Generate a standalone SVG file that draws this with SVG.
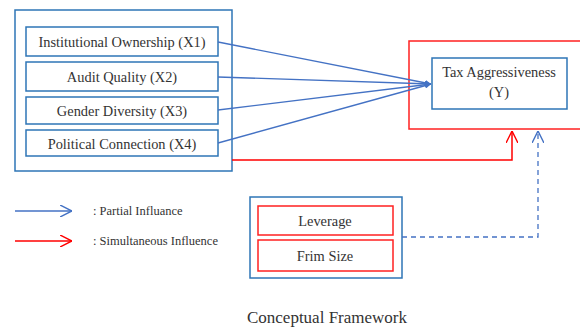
<svg xmlns="http://www.w3.org/2000/svg" width="580" height="329" viewBox="0 0 580 329">
<style>
.bbox{fill:#fff;stroke:#2e75b6;stroke-width:1.5}
.rbox{fill:#fff;stroke:#ff2020;stroke-width:1.5}
.t{font-family:"Liberation Serif","Times New Roman",serif;font-size:14.4px;fill:#333;text-anchor:middle}
.lg{font-family:"Liberation Serif","Times New Roman",serif;font-size:12.5px;fill:#333}
.blue{stroke:#4472c4;stroke-width:1.3;fill:none}
.red{stroke:#ff0000;stroke-width:1.5;fill:none}
</style>
<defs>
<marker id="fh" viewBox="0 0 10 10" refX="10" refY="5" markerWidth="6" markerHeight="6" orient="auto" markerUnits="userSpaceOnUse">
<path d="M0,0 L10,5 L0,10 Z" fill="#4472c4"/>
</marker>
<marker id="ob" viewBox="0 0 10 10" refX="10" refY="5" markerWidth="12" markerHeight="12" orient="auto" markerUnits="userSpaceOnUse">
<path d="M0,0 L10,5 L0,10" fill="none" stroke="#4472c4" stroke-width="1.2"/>
</marker>
<marker id="or" viewBox="0 0 10 10" refX="10" refY="5" markerWidth="12" markerHeight="12" orient="auto" markerUnits="userSpaceOnUse">
<path d="M0,0 L10,5 L0,10" fill="none" stroke="#ff0000" stroke-width="1.2"/>
</marker>
</defs>
<rect width="580" height="329" fill="#fff"/>
<g id="independent-group"><rect class="bbox" x="15" y="10" width="217" height="161"/></g>
<g id="x1"><rect class="bbox" x="26" y="27" width="192" height="29"/><text class="t" x="122" y="46.5">Institutional Ownership (X1)</text></g>
<g id="x2"><rect class="bbox" x="26" y="62" width="192" height="29"/><text class="t" x="122" y="81.5">Audit Quality (X2)</text></g>
<g id="x3"><rect class="bbox" x="26" y="97" width="192" height="27"/><text class="t" x="122" y="115.5">Gender Diversity (X3)</text></g>
<g id="x4"><rect class="bbox" x="26" y="130" width="192" height="26"/><text class="t" x="122" y="148.5">Political Connection (X4)</text></g>
<g id="y-group"><rect class="rbox" x="409" y="41" width="180" height="88"/></g>
<g id="y"><rect class="bbox" x="432" y="58" width="135" height="51"/><text class="t" x="499" y="77">Tax Aggressiveness</text><text class="t" x="499" y="97">(Y)</text></g>
<g id="control-group"><rect class="bbox" x="250" y="197" width="152" height="81"/></g>
<g id="leverage"><rect class="rbox" x="258" y="206" width="135" height="29"/><text class="t" x="325" y="225.5">Leverage</text></g>
<g id="firmsize"><rect class="rbox" x="258" y="240" width="135" height="31"/><text class="t" x="325" y="260.5">Frim Size</text></g>
<g id="connectors">
<line class="blue" x1="218" y1="42" x2="431" y2="84" marker-end="url(#fh)"/>
<line class="blue" x1="218" y1="77" x2="431" y2="84" marker-end="url(#fh)"/>
<line class="blue" x1="218" y1="110" x2="431" y2="84" marker-end="url(#fh)"/>
<line class="blue" x1="218" y1="143" x2="431" y2="84" marker-end="url(#fh)"/>
<polyline class="red" points="232,160 512,160 512,131" marker-end="url(#or)"/>
<polyline class="blue" points="402,237 538,237 538,131" stroke-dasharray="5,4" marker-end="url(#ob)"/>
</g>
<g id="legend">
<line class="blue" x1="15" y1="211" x2="72" y2="211" marker-end="url(#ob)"/>
<text class="lg" x="93" y="215">: Partial Influance</text>
<line class="red" x1="15" y1="241" x2="72" y2="241" marker-end="url(#or)"/>
<text class="lg" x="93" y="245">: Simultaneous Influence</text>
</g>
<text x="327" y="323" style="font-family:'Liberation Serif','Times New Roman',serif;font-size:17px;fill:#333;text-anchor:middle">Conceptual Framework</text>
</svg>
